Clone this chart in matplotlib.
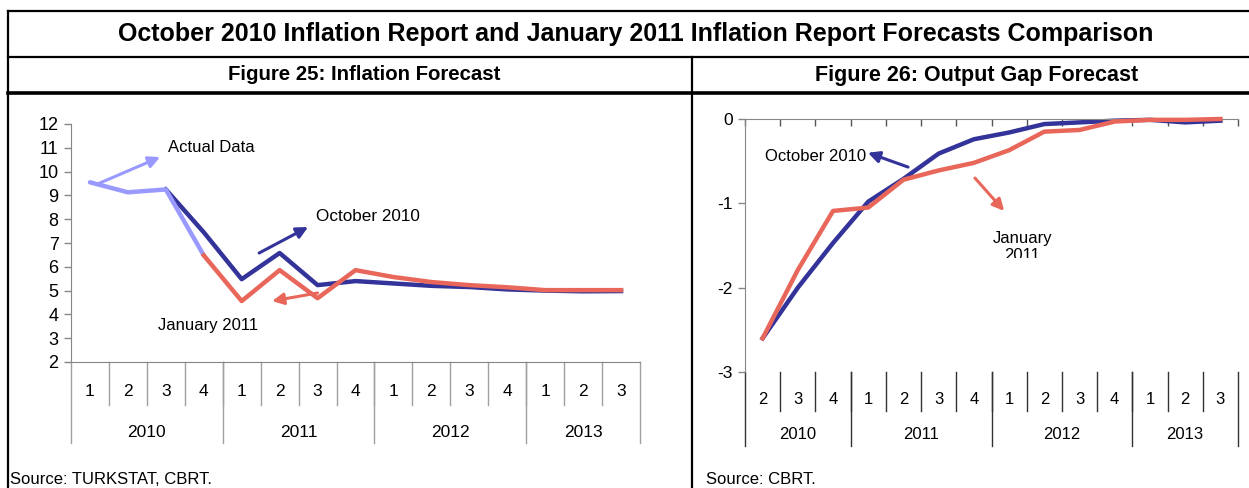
import matplotlib
matplotlib.use("Agg")
import matplotlib.pyplot as plt
from matplotlib.transforms import blended_transform_factory, Bbox

plt.rcParams['font.family'] = ['Liberation Sans', 'DejaVu Sans']

# Figure 25: inflation (%), 2010Q1 - 2013Q3
infl_quarters = ['1', '2', '3', '4'] * 3 + ['1', '2', '3']
infl_years = ['2010', '2011', '2012', '2013']
actual = [9.55, 9.13, 9.25, 6.48]
oct2010_infl = [None, None, 9.25, 7.45, 5.48, 6.58, 5.23, 5.4, 5.3, 5.2, 5.15, 5.05, 5.0, 4.97, 4.98]
jan2011_infl = [None, None, None, 6.48, 4.56, 5.86, 4.68, 5.86, 5.57, 5.36, 5.23, 5.14, 5.02, 5.02, 5.02]

# Figure 26: output gap, 2010Q2 - 2013Q3
gap_quarters = ['2', '3', '4'] + ['1', '2', '3', '4'] * 2 + ['1', '2', '3']
gap_years = ['2010', '2011', '2012', '2013']
oct2010_gap = [-2.6, -2.0, -1.47, -0.98, -0.71, -0.41, -0.24, -0.16, -0.06, -0.04, -0.02, -0.01, -0.04, -0.02]
jan2011_gap = [-2.6, -1.79, -1.09, -1.05, -0.72, -0.61, -0.52, -0.37, -0.15, -0.13, -0.03, -0.01, -0.01, 0.0]

DARK = '#333399'
LIGHT = '#9999FF'
RED = '#E8675A'
GRAY = '#868686'

W, H = 1249, 488
fig = plt.figure(figsize=(W / 100, H / 100), dpi=100)

# frame of the table, in pixel coords
bg = fig.add_axes([0, 0, 1, 1])
bg.set_xlim(0, W)
bg.set_ylim(H, 0)
bg.axis('off')
bg.plot([8, 8], [11, H], color='black', lw=1.6)
bg.plot([8, W], [11, 11], color='black', lw=1.6)
bg.plot([8, W], [57, 57], color='black', lw=1.6)
bg.plot([8, W], [93, 93], color='black', lw=2.6)
bg.plot([692, 692], [57, H], color='black', lw=1.6)
bg.text(636, 34, 'October 2010 Inflation Report and January 2011 Inflation Report Forecasts Comparison',
        ha='center', va='center', fontsize=18, fontweight='bold')
bg.text(364, 75, 'Figure 25: Inflation Forecast', ha='center', va='center', fontsize=14.7, fontweight='bold')
bg.text(977, 75, 'Figure 26: Output Gap Forecast', ha='center', va='center', fontsize=15.5, fontweight='bold')
bg.text(10, 479, 'Source: TURKSTAT, CBRT.', ha='left', va='center', fontsize=12)
bg.text(706, 479, 'Source: CBRT.', ha='left', va='center', fontsize=12)


def category_axis(ax, quarters, years, year_groups, q_lab_y, q_sep_y, y_lab_y, y_sep_y, sep_color, fs):
    tr = blended_transform_factory(ax.transData, ax.transAxes)
    n = len(quarters)
    for i, q in enumerate(quarters):
        ax.text(i, q_lab_y, q, transform=tr, ha='center', va='center', fontsize=fs)
    for i in range(1, n):
        ax.plot([i - 0.5, i - 0.5], [0, q_sep_y], transform=tr, color=sep_color, lw=1, clip_on=False)
    edges = [-0.5]
    for g in year_groups:
        edges.append(edges[-1] + g)
    for e in edges:
        ax.plot([e, e], [0, y_sep_y], transform=tr, color=sep_color, lw=1, clip_on=False)
    for k, yr in enumerate(years):
        ax.text((edges[k] + edges[k + 1]) / 2, y_lab_y, yr, transform=tr, ha='center', va='center', fontsize=fs)


# ---- Figure 25
ax1 = fig.add_axes([71 / W, (H - 362) / H, 569 / W, 238 / H])
x = list(range(len(infl_quarters)))
ax1.plot(x[:4], actual, color=LIGHT, lw=3.2, solid_capstyle='round', zorder=3)
xo = [i for i, v in zip(x, oct2010_infl) if v is not None]
ax1.plot(xo, [v for v in oct2010_infl if v is not None], color=DARK, lw=3.2, zorder=2)
xj = [i for i, v in zip(x, jan2011_infl) if v is not None]
ax1.plot(xj, [v for v in jan2011_infl if v is not None], color=RED, lw=3.2, zorder=4)
ax1.set_xlim(-0.5, len(x) - 0.5)
ax1.set_ylim(2, 12)
ax1.set_yticks(range(2, 13))
ax1.tick_params(axis='y', colors=GRAY, length=5, width=1, labelsize=13, labelcolor='black', pad=4)
ax1.set_xticks([])
for s in ['top', 'right']:
    ax1.spines[s].set_visible(False)
ax1.spines['left'].set_color(GRAY)
ax1.spines['bottom'].set_color(GRAY)
category_axis(ax1, infl_quarters, infl_years, [4, 4, 4, 3], -0.122, -0.181, -0.298, -0.340, '#A0A0A0', 12.5)

arr = dict(arrowstyle='-|>', lw=2.2, mutation_scale=17, shrinkA=0, shrinkB=0)
ax1.annotate('', xy=(1.85, 10.61), xytext=(0.2, 9.48), arrowprops=dict(arr, color=LIGHT))
ax1.text(2.06, 11.03, 'Actual Data', ha='left', va='center', fontsize=12)
ax1.annotate('', xy=(5.75, 7.67), xytext=(4.46, 6.58), arrowprops=dict(arr, color=DARK))
ax1.text(5.96, 8.13, 'October 2010', ha='left', va='center', fontsize=12.3)
ax1.annotate('', xy=(4.8, 4.56), xytext=(6.0, 4.9), arrowprops=dict(arr, color=RED))
ax1.text(1.79, 3.55, 'January 2011', ha='left', va='center', fontsize=12)

# ---- Figure 26
ax2 = fig.add_axes([745 / W, (H - 372) / H, 493 / W, 253 / H])
x2 = list(range(len(gap_quarters)))
ax2.plot(x2, oct2010_gap, color=DARK, lw=3.2, zorder=2, clip_on=False)
ax2.plot(x2, jan2011_gap, color=RED, lw=3.2, zorder=3, clip_on=False)
ax2.set_xlim(-0.5, len(x2) - 0.5)
ax2.set_ylim(-3, 0)
ax2.set_yticks([-3, -2, -1, 0])
ax2.set_yticklabels(['-3', '-2', '-1', '0'])
ax2.tick_params(axis='y', colors=GRAY, length=5, width=1, labelsize=12.5, labelcolor='black', pad=4)
ax2.xaxis.tick_top()
ax2.set_xticks([i - 0.5 for i in range(len(x2) + 1)])
ax2.set_xticklabels([])
ax2.tick_params(axis='x', colors='#555555', direction='in', length=5, width=1)
for s in ['bottom', 'right']:
    ax2.spines[s].set_visible(False)
ax2.spines['left'].set_color(GRAY)
ax2.spines['top'].set_color(GRAY)
category_axis(ax2, gap_quarters, gap_years, [3, 4, 4, 3], -0.107, -0.154, -0.249, -0.292, '#333333', 12)

ax2.annotate('', xy=(2.99, -0.40), xytext=(4.13, -0.57), arrowprops=dict(arr, color=DARK))
ax2.text(0.07, -0.45, 'October 2010', ha='left', va='center', fontsize=12)
ax2.annotate('', xy=(6.86, -1.09), xytext=(6.03, -0.70), arrowprops=dict(arr, color=RED))
# the label box is cut off half way through "2011"
jt = ax2.text(7.37, -1.33, 'January\n2011', ha='center', va='top', fontsize=12, linespacing=1.15)
jt.set_clip_on(True)
jt.set_clip_box(Bbox([[0, H - 258], [W, H]]))

fig.savefig('out.png', dpi=100)
